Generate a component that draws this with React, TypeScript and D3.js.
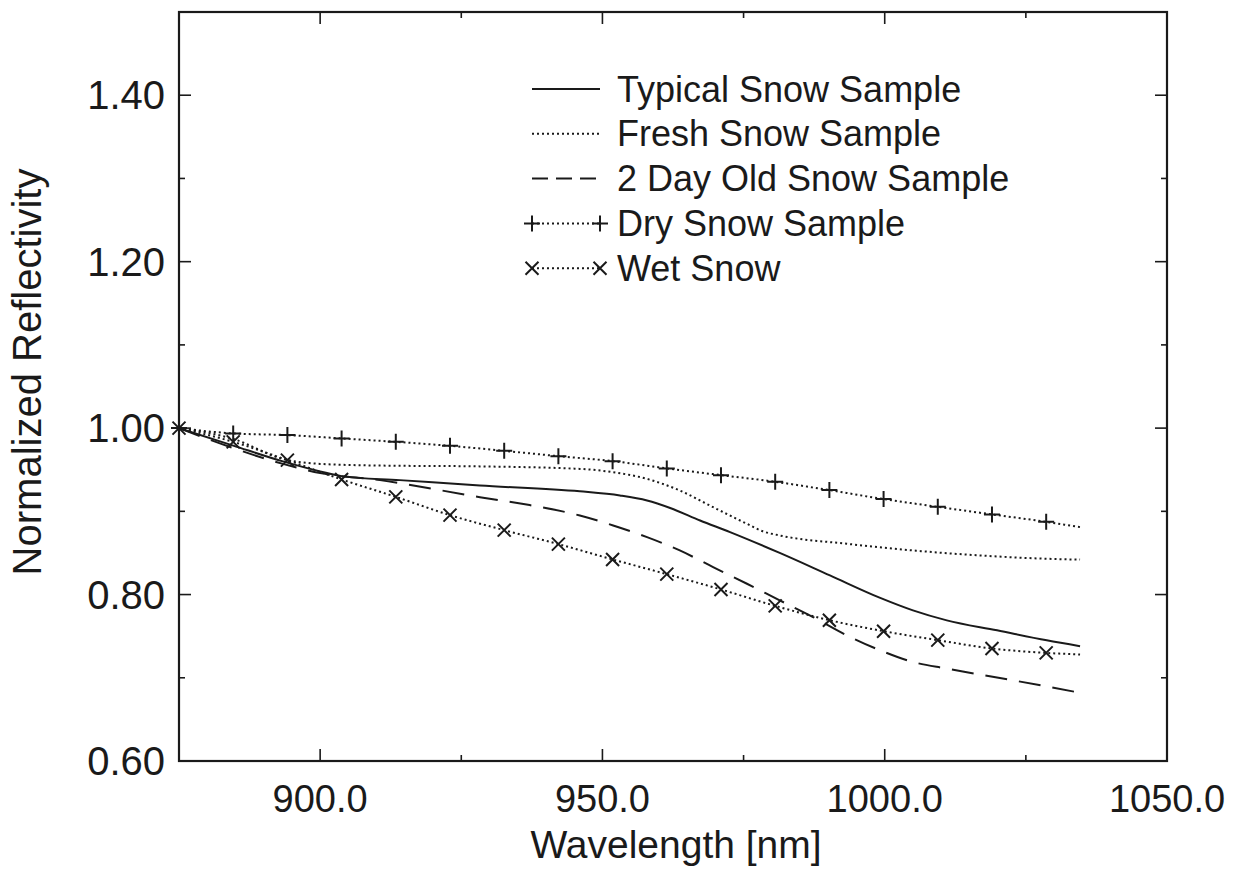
import React from "react";
import * as d3 from "d3";

// Wavelength (nm) and normalized reflectivity for each snow sample
const typicalWl = [875, 884.6, 893.4, 900, 904, 914.1, 928.3, 946, 953.1, 957.9, 962, 967.3, 972.6, 981.4, 990.3, 999.2, 1005, 1011, 1019.9, 1028.7, 1034.6];
const typicalVal = [1.0, 0.979, 0.96, 0.948, 0.942, 0.9375, 0.931, 0.924, 0.919, 0.913, 0.904, 0.889, 0.875, 0.85, 0.823, 0.796, 0.781, 0.769, 0.757, 0.745, 0.738];

const freshWl = [875, 884.6, 893.4, 900, 910.6, 928.3, 946, 951.9, 957.9, 963.7, 969.6, 975.6, 978.4, 981.4, 993.3, 1005, 1016.9, 1028.7, 1034.6];
const freshVal = [1.0, 0.987, 0.963, 0.957, 0.955, 0.954, 0.951, 0.947, 0.939, 0.925, 0.905, 0.885, 0.876, 0.871, 0.861, 0.853, 0.847, 0.843, 0.842];

const twoDayWl = [875, 884.6, 893.4, 900, 910.6, 928.3, 937.1, 946, 951.9, 957.9, 963.7, 969.6, 975.6, 981.4, 987.3, 993.3, 999.2, 1005, 1011, 1022.7, 1034.6];
const twoDayVal = [1.0, 0.976, 0.957, 0.946, 0.9375, 0.917, 0.9075, 0.895, 0.883, 0.869, 0.853, 0.833, 0.813, 0.793, 0.773, 0.751, 0.733, 0.719, 0.711, 0.697, 0.682];

// Dry and wet samples: every point but the last carries a marker
const sampledWl = [875, 884.6, 894.2, 903.8, 913.4, 923.0, 932.6, 942.2, 951.8, 961.4, 971.0, 980.6, 990.2, 999.8, 1009.4, 1019.0, 1028.6, 1034.6];
const dryVal = [1.0, 0.9936, 0.9916, 0.9876, 0.9835, 0.9787, 0.9727, 0.9663, 0.9603, 0.9516, 0.9435, 0.9355, 0.9255, 0.9147, 0.9054, 0.8963, 0.8874, 0.881];
const wetVal = [1.0, 0.9835, 0.9615, 0.9383, 0.9174, 0.8954, 0.8774, 0.8606, 0.8422, 0.8245, 0.8061, 0.7864, 0.7692, 0.756, 0.7452, 0.7352, 0.7299, 0.728];

const xMajorTicks = [900, 950, 1000, 1050];
const xMinorTicks = [925, 975, 1025];
const yMajorTicks = [0.6, 0.8, 1.0, 1.2, 1.4];
const yMinorTicks = [0.7, 0.9, 1.1, 1.3];

const legendLabels = [
  "Typical Snow Sample",
  "Fresh Snow Sample",
  "2 Day Old Snow Sample",
  "Dry Snow Sample",
  "Wet Snow",
];

type Marker = "none" | "plus" | "cross";
type Series = { wl: number[]; val: number[]; dash: string; marker: Marker };

const series: Series[] = [
  { wl: typicalWl, val: typicalVal, dash: "none", marker: "none" },
  { wl: freshWl, val: freshVal, dash: "2 3", marker: "none" },
  { wl: twoDayWl, val: twoDayVal, dash: "22 12", marker: "none" },
  { wl: sampledWl, val: dryVal, dash: "2 3", marker: "plus" },
  { wl: sampledWl, val: wetVal, dash: "2 3", marker: "cross" },
];

const W = 1242;
const H = 874;
const plot = { left: 179, right: 1167, top: 12, bottom: 761 };
const FONT = "'Liberation Sans', Arial, Helvetica, sans-serif";
const INK = "#1a1a1a";

const x = d3.scaleLinear().domain([875, 1050]).range([plot.left, plot.right]);
const y = d3.scaleLinear().domain([0.6, 1.5]).range([plot.bottom, plot.top]);

function MarkerGlyph({ kind, cx, cy }: { kind: Marker; cx: number; cy: number }) {
  if (kind === "plus") {
    const r = 8;
    return (
      <path
        d={`M${cx - r},${cy}H${cx + r}M${cx},${cy - r}V${cy + r}`}
        stroke={INK}
        strokeWidth={2}
        fill="none"
      />
    );
  }
  if (kind === "cross") {
    const r = 6.5;
    return (
      <path
        d={`M${cx - r},${cy - r}L${cx + r},${cy + r}M${cx - r},${cy + r}L${cx + r},${cy - r}`}
        stroke={INK}
        strokeWidth={2}
        fill="none"
      />
    );
  }
  return null;
}

export default function App() {
  const line = d3
    .line<[number, number]>()
    .x((d) => x(d[0]))
    .y((d) => y(d[1]))
    .curve(d3.curveMonotoneX);

  const majorLen = 12;
  const minorLen = 6;

  const legendX0 = 532;
  const legendX1 = 600;
  const legendY0 = 89;
  const legendStep = 44.8;

  return (
    <svg
      width={W}
      height={H}
      viewBox={`0 0 ${W} ${H}`}
      style={{ position: "absolute", left: 0, top: 0, background: "#fff" }}
    >
      <rect x={0} y={0} width={W} height={H} fill="#fff" />

      {/* ticks on all four sides, pointing inward */}
      <g stroke={INK} strokeWidth={1.6}>
        {xMajorTicks.map((t) => (
          <g key={"xM" + t}>
            <line x1={x(t)} x2={x(t)} y1={plot.bottom} y2={plot.bottom - majorLen} />
            <line x1={x(t)} x2={x(t)} y1={plot.top} y2={plot.top + majorLen} />
          </g>
        ))}
        {xMinorTicks.map((t) => (
          <g key={"xm" + t}>
            <line x1={x(t)} x2={x(t)} y1={plot.bottom} y2={plot.bottom - minorLen} />
            <line x1={x(t)} x2={x(t)} y1={plot.top} y2={plot.top + minorLen} />
          </g>
        ))}
        {yMajorTicks.map((t) => (
          <g key={"yM" + t}>
            <line x1={plot.left} x2={plot.left + majorLen} y1={y(t)} y2={y(t)} />
            <line x1={plot.right} x2={plot.right - majorLen} y1={y(t)} y2={y(t)} />
          </g>
        ))}
        {yMinorTicks.map((t) => (
          <g key={"ym" + t}>
            <line x1={plot.left} x2={plot.left + minorLen} y1={y(t)} y2={y(t)} />
            <line x1={plot.right} x2={plot.right - minorLen} y1={y(t)} y2={y(t)} />
          </g>
        ))}
      </g>

      {/* data curves */}
      <g fill="none" stroke={INK} strokeWidth={2}>
        {series.map((s, i) => {
          const pts = s.wl.map((w, j) => [w, s.val[j]] as [number, number]);
          return (
            <path
              key={"s" + i}
              d={line(pts) || ""}
              strokeDasharray={s.dash === "none" ? undefined : s.dash}
            />
          );
        })}
      </g>
      <g>
        {series.map((s, i) =>
          s.marker === "none"
            ? null
            : s.wl.slice(0, -1).map((w, j) => (
                <MarkerGlyph key={`m${i}-${j}`} kind={s.marker} cx={x(w)} cy={y(s.val[j])} />
              ))
        )}
      </g>

      {/* frame */}
      <rect
        x={plot.left}
        y={plot.top}
        width={plot.right - plot.left}
        height={plot.bottom - plot.top}
        fill="none"
        stroke={INK}
        strokeWidth={2.2}
      />

      {/* tick labels */}
      <g fontFamily={FONT} fontSize={38} fill={INK}>
        {xMajorTicks.map((t) => (
          <text key={"xl" + t} x={x(t)} y={812} textAnchor="middle">
            {t.toFixed(1)}
          </text>
        ))}
        {yMajorTicks.map((t) => (
          <text key={"yl" + t} x={165} y={y(t)} textAnchor="end" dominantBaseline="central" fontSize={40}>
            {t.toFixed(2)}
          </text>
        ))}
      </g>

      {/* axis titles */}
      <text
        x={676}
        y={858}
        textAnchor="middle"
        fontFamily={FONT}
        fontSize={39}
        fill={INK}
      >
        Wavelength [nm]
      </text>
      <text
        transform={`translate(41,372) rotate(-90)`}
        textAnchor="middle"
        fontFamily={FONT}
        fontSize={40}
        fill={INK}
      >
        Normalized Reflectivity
      </text>

      {/* legend */}
      <g>
        {series.map((s, i) => {
          const ly = legendY0 + i * legendStep;
          return (
            <g key={"lg" + i}>
              <line
                x1={legendX0}
                x2={legendX1}
                y1={ly}
                y2={ly}
                stroke={INK}
                strokeWidth={2}
                strokeDasharray={s.dash === "none" ? undefined : s.dash === "22 12" ? "16 8" : s.dash}
              />
              {s.marker !== "none" && (
                <>
                  <MarkerGlyph kind={s.marker} cx={legendX0} cy={ly} />
                  <MarkerGlyph kind={s.marker} cx={legendX1} cy={ly} />
                </>
              )}
              <text
                x={617}
                y={ly}
                dominantBaseline="central"
                fontFamily={FONT}
                fontSize={36}
                fill={INK}
              >
                {legendLabels[i]}
              </text>
            </g>
          );
        })}
      </g>
    </svg>
  );
}
